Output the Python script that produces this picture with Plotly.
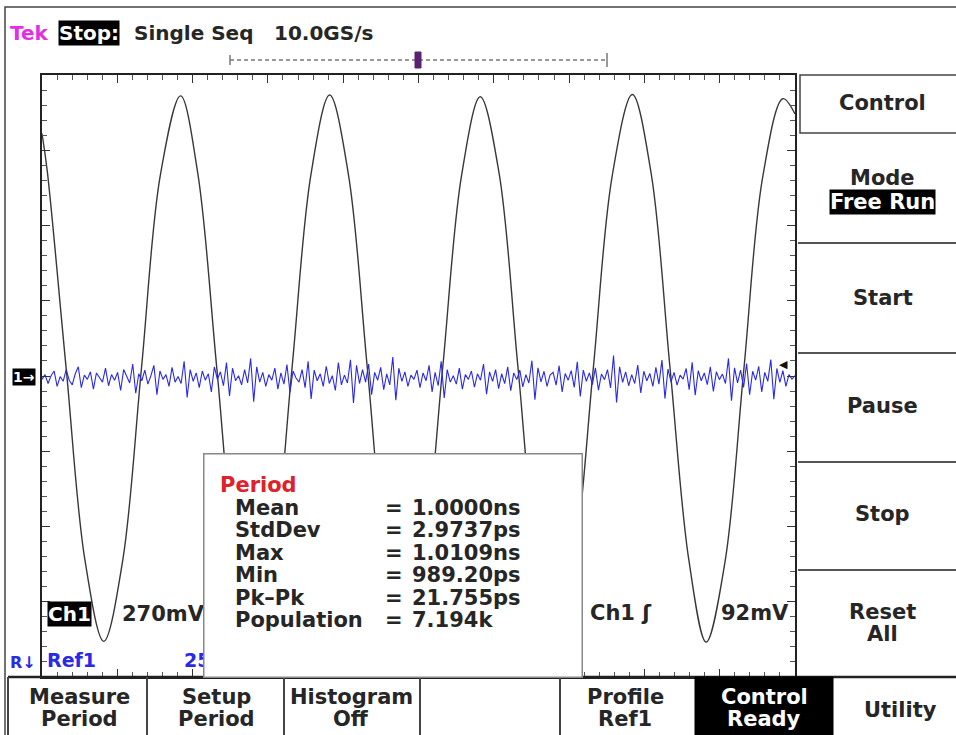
import plotly.graph_objects as go

# Ch1 waveform (time in ns, amplitude in mV), 270 mV/div, 500 ps/div
ch1_t = [0.00, 0.035, 0.16, 0.285, 0.41, 0.535, 0.66, 0.785, 0.92, 1.035, 1.16, 1.285,
         1.41, 1.535, 1.66, 1.785, 1.91, 2.035, 2.16, 2.285, 2.41, 2.535, 2.66, 2.785,
         2.91, 3.035, 3.16, 3.285, 3.41, 3.535, 3.66, 3.785, 3.92, 4.045, 4.17, 4.295,
         4.41, 4.535, 4.66, 4.785, 4.92, 5.00]
ch1_mv = [870, 735, 30, -660, -952, -665, 25, 718, 1005, 725, 32, -662,
          -950, -668, 28, 720, 1008, 722, 30, -664, -948, -660, 26, 716,
          1002, 728, 34, -658, -950, -662, 24, 714, 1010, 726, 30, -660,
          -955, -668, 22, 712, 995, 940]

# Ref1 trace (noise), mV around its offset
ref1_offset_mv = -7
ref1_mv = [
    -5, 12, -20, 8, 25, -30, 5, -12, 30, -8, -25, 15, 40, -35, 10, -5, 22, -40, 18, 0, -15, 35, -28, 12, -8,
    20, -45, 30, 5, -18, 50, -55, 15, -10, 28, -22, 8, 45, -60, 25, -5, 12, -30, 38, -15, 5, -20, 60, -70, 30,
    -12, 18, -35, 25, -8, 15, -50, 40, -5, 22, -28, 55, -65, 35, -10, 8, -25, 30, -18, 70, -85, 40, -15, 20, -30,
    12, -8, 35, -40, 18, -22, 48, -52, 25, 0, -15, 30, -35, 60, -75, 28, -10, 15, -30, 42, -20, 8, -45, 55, -25,
    10, -18, 65, -90, 45, -20, 30, -15, 50, -60, 20, -8, 38, -42, 15, -25, 75, -80, 35, -12, 22, -30, 10, -5, 28,
    -35, 18, -10, 45, -50, 20, -28, 60, -72, 30, -15, 8, -22, 35, -40, 12, -5, 25, -33, 15, -8, 50, -58, 22, -12,
    30, -38, 15, -20, 40, -46, 18, -6, 28, -32, 12, -18, 62, -78, 36, -14, 24, -30, 10, 20, -26, 44, -50, 16, -8,
    26, -34, 58, -66, 28, -12, 18, -24, 36, -44, 14, -6, 30, -36, 80, -88, 40, -16, 22, -28, 12, -20, 46, -54, 24,
    -10, 16, -30, 38, -22, 64, -74, 32, -14, 20, -26, 10, -4, 34, -42, 56, -62, 26, -10, 18, -24, 40, -48, 22, -6,
    14, -20, 70, -82, 36, -18, 28, -34, 52, -60, 24, -8, 42, -50, 20, -12, 66, -76, 34, -16, 26, -30, 12, -4, 8]
record_ns = 5.0
ns_per_div = 0.5
mv_per_div = 270

# measurement readout
meas_title = "Period"
meas_labels = ["Mean", "StdDev", "Max", "Min", "Pk–Pk", "Population"]
meas_values = ["1.0000ns", "2.9737ps", "1.0109ns", "989.20ps", "21.755ps", "7.194k"]

side_menu = ["Control", "Mode", "Start", "Pause", "Stop", "Reset"]
bottom_menu = [("Measure", "Period"), ("Setup", "Period"), ("Histogram", "Off"),
               ("", ""), ("Profile", "Ref1"), ("Control", "Ready"), ("Utility", "")]

# ---------------- figure ----------------
W, H = 956, 735
X0, X1, Y0, Y1 = 42, 795, 75, 677


def fx(x):
    return (x - X0) / (X1 - X0)


def fy(y):
    return (Y1 - y) / (Y1 - Y0)


n = len(ref1_mv)
ref1_t = [i * record_ns / (n - 1) for i in range(n)]
ref1_y = [v + ref1_offset_mv for v in ref1_mv]

fig = go.Figure()
fig.add_trace(go.Scatter(x=ch1_t, y=ch1_mv, mode="lines",
                         line=dict(color="#383838", width=1.4, shape="spline"),
                         hoverinfo="skip", showlegend=False))
fig.add_trace(go.Scatter(x=ref1_t, y=ref1_y, mode="lines",
                         line=dict(color="#2a2ae6", width=1.1),
                         hoverinfo="skip", showlegend=False))
# invisible trace on the mirrored (top/right) graticule axes
fig.add_trace(go.Scatter(x=[0], y=[0], xaxis="x2", yaxis="y2", mode="markers",
                         marker=dict(opacity=0), hoverinfo="skip", showlegend=False))

FONT = "DejaVu Sans"
TXT = "#262626"
FS = 21
annots = []


def txt(x, y, s, size=FS, color=TXT, anchor="left", bg=None, weight="bold"):
    d = dict(x=fx(x), y=fy(y), xref="paper", yref="paper", text=s, showarrow=False,
             xanchor=anchor, yanchor="middle",
             font=dict(family=FONT, size=size, color=color, weight=weight))
    if bg:
        d.update(bgcolor=bg, borderpad=0)
    annots.append(d)


shapes = []


def line(x0, y0, x1, y1, color="#333", width=2, dash=None):
    ln = dict(color=color, width=width)
    if dash:
        ln["dash"] = dash
    shapes.append(dict(type="line", xref="paper", yref="paper", x0=fx(x0), y0=fy(y0),
                       x1=fx(x1), y1=fy(y1), line=ln))


def rect(x0, y0, x1, y1, fill=None, color="#333", width=1.5):
    shapes.append(dict(type="rect", xref="paper", yref="paper", x0=fx(x0), y0=fy(y0),
                       x1=fx(x1), y1=fy(y1), fillcolor=fill or "rgba(0,0,0,0)",
                       line=dict(color=color, width=width)))


# outer frame
rect(5, 7, 962, 742, color="#444", width=1.5)
# record bar
line(230, 60, 607, 60, color="#777", width=1.5, dash="4px,3px")
line(230, 55, 230, 65, color="#777", width=1.5)
line(607, 53, 607, 67, color="#777", width=1.5)
rect(415, 52, 421, 68, fill="#5b2070", color="#5b2070", width=1)
# right menu
rect(800, 75, 962, 133, color="#444", width=1.5)
for yy in [243, 353, 462, 570]:
    line(798, yy, 962, yy, color="#555", width=2)
# bottom menu
line(8, 677, 962, 677, color="#222", width=2.5)
for xx in [8, 147, 284, 420, 560]:
    line(xx, 677, xx, 740, color="#444", width=2)
rect(695, 677, 833, 740, fill="#000", color="#000", width=1)

# header
txt(8, 33, "Tek", color="#e030e0", size=20)
txt(58, 33, "Stop:", color="white", bg="black", size=20)
txt(132, 33, "Single Seq", size=20)
txt(272, 33, "10.0GS/s", size=20)

# channel markers
txt(12, 377, "1→", size=14, color="white", bg="black")
txt(790, 364, "◀", size=11, color="#111", anchor="right")

# bottom-left / readouts
txt(47, 614, "Ch1", color="white", bg="black", size=20)
txt(120, 614, "270mV")
txt(8, 662, "R↓", size=16, color="#2a2ae6")
txt(45, 660, "Ref1", size=19, color="#2a2ae6")
txt(182, 660, "25", size=19, color="#2a2ae6")
txt(588, 613, "Ch1 ʃ")
txt(719, 613, "92mV")

# measurement box (annotation so it sits above the Ref1 scale text)
annots.append(dict(x=fx(203), y=fy(453), xref="paper", yref="paper", text=" ",
                   showarrow=False, xanchor="left", yanchor="top",
                   width=377, height=222, bgcolor="white", bordercolor="#888",
                   borderwidth=1.5, borderpad=0))
txt(218, 485, meas_title, color="#e0202a")
for i, (lab, val) in enumerate(zip(meas_labels, meas_values)):
    yy = 508 + i * 22.4
    txt(233, yy, lab)
    txt(383, yy, "=")
    txt(410, yy, val)

# side menu labels
CX = 883
txt(CX, 103, side_menu[0], anchor="center")
txt(CX, 178, side_menu[1], anchor="center")
txt(CX, 202, "Free Run", color="white", bg="black", anchor="center")
txt(CX, 298, side_menu[2], anchor="center")
txt(CX, 406, side_menu[3], anchor="center")
txt(CX, 514, side_menu[4], anchor="center")
txt(CX, 612, side_menu[5], anchor="center")
txt(CX, 634, "All", anchor="center")

# bottom menu labels
centers = [79, 216, 351, 490, 625, 764, 900]
for cx, (a, b) in zip(centers, bottom_menu):
    col = "white" if a == "Control" else TXT
    if a and b:
        txt(cx, 697, a, anchor="center", color=col)
        txt(cx, 719, b, anchor="center", color=col)
    elif a:
        txt(cx, 710, a, anchor="center", color=col)

tick_common = dict(showgrid=False, zeroline=False, showticklabels=False,
                   ticks="inside", ticklen=8, tickcolor="#333", tickwidth=1.3,
                   fixedrange=True)
xminor = dict(dtick=ns_per_div / 5, ticks="inside", ticklen=5, tickcolor="#555",
              tickwidth=1.2, showgrid=False)
yminor = dict(dtick=mv_per_div / 5, ticks="inside", ticklen=5, tickcolor="#555",
              tickwidth=1.2, showgrid=False)

fig.update_layout(
    width=W, height=H,
    margin=dict(l=X0, r=W - X1, t=Y0, b=H - Y1),
    paper_bgcolor="white", plot_bgcolor="white",
    showlegend=False,
    xaxis=dict(range=[0, record_ns], showline=True, linecolor="#222", linewidth=2,
               mirror=True, dtick=ns_per_div, tick0=0, minor=xminor, **tick_common),
    yaxis=dict(range=[-4 * mv_per_div, 4 * mv_per_div], showline=True, linecolor="#222",
               linewidth=2, mirror=True, dtick=mv_per_div, tick0=0, minor=yminor, **tick_common),
    xaxis2=dict(range=[0, record_ns], overlaying="x", side="top", anchor="y2",
                showline=False, dtick=ns_per_div, tick0=0, minor=xminor, **tick_common),
    yaxis2=dict(range=[-4 * mv_per_div, 4 * mv_per_div], overlaying="y", side="right",
                anchor="x2", showline=False, dtick=mv_per_div, tick0=0, minor=yminor,
                **tick_common),
    shapes=shapes,
    annotations=annots,
)

fig.write_html("out.html", config={"displayModeBar": False},
               post_script="document.body.style.margin='0';")
